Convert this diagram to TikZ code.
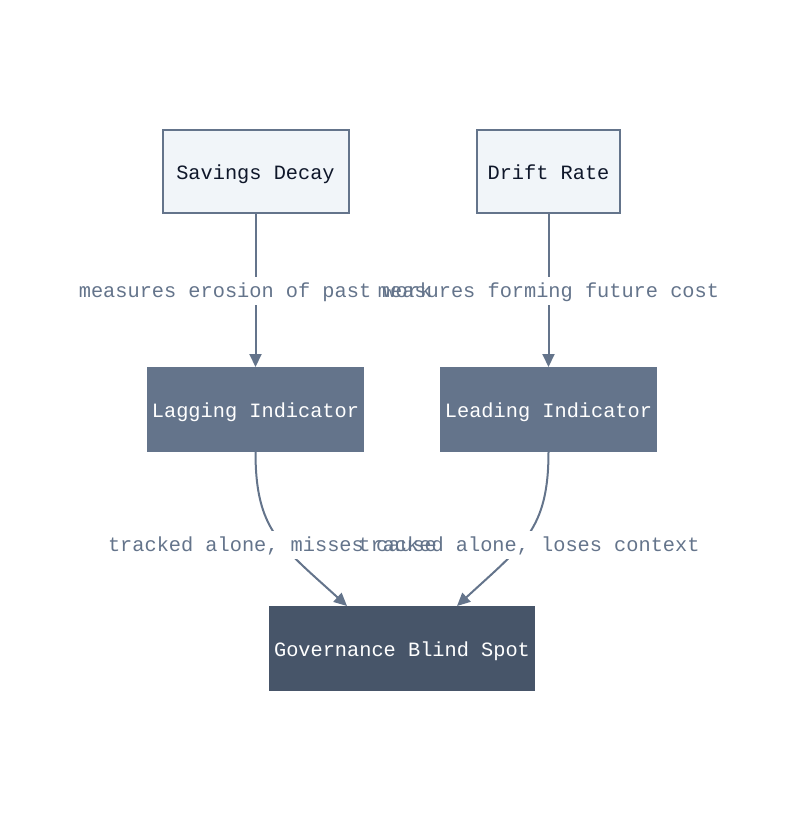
\documentclass[tikz,border=0pt]{standalone}
\usepackage{fontspec}
\newfontfamily\diagfont{Liberation Mono}
\usepackage{tikz}
\usetikzlibrary{positioning,calc,arrows.meta}
\definecolor{slateline}{HTML}{64748B}
\definecolor{slatepale}{HTML}{F1F5F9}
\definecolor{slatemid}{HTML}{64748B}
\definecolor{slatedark}{HTML}{475569}
\definecolor{inkdark}{HTML}{0F172A}
\pgfdeclarelayer{edgelayer}
\pgfdeclarelayer{masklayer}
\pgfsetlayers{edgelayer,masklayer,main}
\pgfkeys{tikz/diagenv/.style={x=1pt,y=-1pt,font=\diagfont\fontsize{20.3}{24}\selectfont}}
\pgfkeys{tikz/metricbox/.style={draw=slateline,line width=2pt,fill=slatepale,text=inkdark,minimum height=83pt,inner sep=0pt,text height=20pt,text depth=4pt}}
\pgfkeys{tikz/indicatorbox/.style={draw=slatemid,line width=1pt,fill=slatemid,text=white,minimum width=216pt,minimum height=84pt,inner sep=0pt,text height=20pt,text depth=4pt}}
\pgfkeys{tikz/outcomebox/.style={indicatorbox,draw=slatedark,fill=slatedark,minimum width=265pt}}
\pgfkeys{tikz/flowedge/.style={draw=slateline,line width=2pt,-{Triangle[length=13pt,width=12pt]}}}
\pgfkeys{tikz/flowlabel/.style={text=slateline,inner xsep=0pt,inner ysep=2.5pt,text height=18pt,text depth=4.5pt}}

\begin{document}
\begin{tikzpicture}[diagenv]
    \useasboundingbox (0,0) rectangle (800,820);
    \node[metricbox,minimum width=186pt] (sav) at (255.5,171) {Savings Decay};
    \node[metricbox,minimum width=143pt] (drift) at (548.5,171) {Drift Rate};
    \node[indicatorbox] (lag) at (255.5,409.5) {Lagging Indicator};
    \node[indicatorbox] (lead) at (548.5,409.5) {Leading Indicator};
    \node[outcomebox] (gov) at (402,648.5) {Governance Blind Spot};
    \coordinate (govL) at ($(gov.north)+(-55,0)$);
    \coordinate (govR) at ($(gov.north)+(55,0)$);
    % edge labels, kept apart so the lines can be cut behind them
    \node[flowlabel] (lbSav) at (255.5,291) {measures erosion of past work};
    \node[flowlabel] (lbDrift) at (548.5,291) {measures forming future cost};
    \node[flowlabel] (lbLag) at (272.5,545) {tracked alone, misses cause};
    \node[flowlabel] (lbLead) at (529,545) {tracked alone, loses context};
    \begin{pgfonlayer}{masklayer}
        \foreach \lb in {lbSav,lbDrift,lbLag,lbLead}
            \fill[white] (\lb.south west) rectangle (\lb.north east);
    \end{pgfonlayer}
    \begin{pgfonlayer}{edgelayer}
        \draw[flowedge] (sav) -- (lag);
        \draw[flowedge] (drift) -- (lead);
        \draw[flowedge] (lag.south) .. controls +(0,78) and +(-67,-61) .. (govL);
        \draw[flowedge] (lead.south) .. controls +(0,78) and +(66,-61) .. (govR);
    \end{pgfonlayer}
\end{tikzpicture}
\end{document}
